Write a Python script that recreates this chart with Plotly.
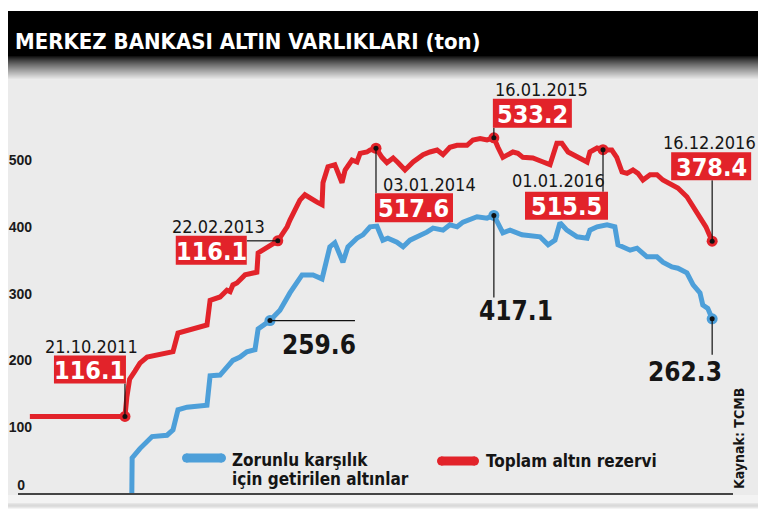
import plotly.graph_objects as go
import pandas as pd

# ---------------- data ----------------
red_dates = [
    "2010-12-20", "2011-10-21", "2011-10-27", "2011-11-05", "2011-11-22", "2011-12-08",
    "2011-12-31", "2012-02-10", "2012-03-23", "2012-04-08", "2012-06-08", "2012-07-10",
    "2012-07-20", "2012-08-21", "2012-09-12", "2012-09-22", "2012-10-01", "2012-10-14",
    "2012-11-09", "2012-12-17", "2012-12-21", "2013-01-18", "2013-02-22", "2013-03-24",
    "2013-04-02", "2013-05-04", "2013-05-20", "2013-06-28", "2013-07-14", "2013-07-17",
    "2013-08-02", "2013-08-24", "2013-08-31", "2013-09-16", "2013-09-26", "2013-10-18",
    "2013-11-03", "2013-11-13", "2013-12-05", "2013-12-15", "2014-01-03", "2014-01-22",
    "2014-02-07", "2014-02-27", "2014-03-15", "2014-04-06", "2014-05-02", "2014-06-03",
    "2014-06-25", "2014-07-18", "2014-08-06", "2014-08-28", "2014-09-20", "2014-10-22",
    "2014-11-10", "2014-12-03", "2014-12-25", "2015-01-16", "2015-01-29", "2015-02-14",
    "2015-03-18", "2015-04-03", "2015-04-19", "2015-05-21", "2015-06-23", "2015-07-15",
    "2015-08-06", "2015-08-22", "2015-09-11", "2015-10-10", "2015-11-11", "2015-11-20",
    "2015-12-13", "2016-01-01", "2016-01-29", "2016-02-14", "2016-03-02", "2016-03-18",
    "2016-04-06", "2016-04-22", "2016-05-08", "2016-05-31", "2016-06-22", "2016-07-11",
    "2016-08-09", "2016-08-28", "2016-09-26", "2016-10-16", "2016-11-07", "2016-11-26",
    "2016-12-16",
]
red_values = [
    116.1, 116.1, 145, 172, 184, 196,
    205, 209, 213, 241, 250, 253,
    290, 295, 305, 303, 313, 316,
    328, 332, 361, 370, 379, 400,
    410, 440, 448, 437, 433, 466,
    490, 493, 485, 466, 485, 500,
    497, 510, 512, 515, 517.6, 504,
    496, 503, 496, 485, 497, 508,
    512, 515, 508, 519, 522, 522,
    530, 532, 530, 533.2, 519, 504,
    512, 510, 504, 503, 497, 493,
    525, 525, 512, 504, 497, 512,
    518, 515.5, 515, 504, 482, 480,
    485, 480, 470, 478, 478, 470,
    463, 458, 445, 430, 415, 400,
    378.4,
]

blue_dates = [
    "2011-11-12", "2011-11-13", "2011-12-08", "2012-01-16", "2012-03-04", "2012-03-23",
    "2012-04-08", "2012-05-07", "2012-07-10", "2012-07-20", "2012-08-21", "2012-09-12",
    "2012-10-01", "2012-10-24", "2012-11-15", "2012-12-11", "2012-12-21", "2013-01-28",
    "2013-03-01", "2013-04-02", "2013-05-11", "2013-06-15", "2013-07-14", "2013-08-08",
    "2013-08-24", "2013-09-19", "2013-10-05", "2013-11-03", "2013-11-22", "2013-12-15",
    "2014-01-06", "2014-01-25", "2014-02-10", "2014-03-11", "2014-03-31", "2014-04-22",
    "2014-05-18", "2014-06-15", "2014-07-05", "2014-08-06", "2014-08-28", "2014-09-20",
    "2014-10-09", "2014-10-31", "2014-11-23", "2014-12-25", "2015-01-16", "2015-02-14",
    "2015-03-09", "2015-04-16", "2015-06-13", "2015-07-09", "2015-07-31", "2015-08-16",
    "2015-09-07", "2015-10-10", "2015-11-11", "2015-11-20", "2015-12-13", "2016-01-14",
    "2016-02-08", "2016-02-18", "2016-03-05", "2016-03-28", "2016-04-19", "2016-05-21",
    "2016-06-22", "2016-07-11", "2016-08-09", "2016-08-28", "2016-09-26", "2016-10-16",
    "2016-11-07", "2016-11-16", "2016-12-02", "2016-12-16",
]
blue_values = [
    0, 54, 68, 86, 88, 96,
    126, 130, 133, 177, 178, 189,
    200, 205, 213, 216, 247, 259.6,
    275, 301, 328, 328, 322, 370,
    376, 347, 370, 383, 388, 400,
    401, 380, 383, 377, 370, 380,
    385, 392, 398, 395, 403, 400,
    407, 410, 415, 413, 417.1, 391,
    395, 388, 385, 373, 380, 406,
    395, 385, 383, 395, 400, 403,
    400, 373, 370, 365, 368, 355,
    355, 347, 340, 338, 331, 313,
    301, 283, 278, 262.3,
]

y_tick_values = [0, 100, 200, 300, 400, 500]

red_callout_dates = ["2011-10-21", "2013-02-22", "2014-01-03", "2015-01-16", "2016-01-01", "2016-12-16"]
red_callout_labels = ["116.1", "116.1", "517.6", "533.2", "515.5", "378.4"]
blue_callout_dates = ["2013-01-28", "2015-01-16", "2016-12-16"]
blue_callout_labels = ["259.6", "417.1", "262.3"]

title_text = "MERKEZ BANKASI ALTIN VARLIKLARI (ton)"
legend_blue_lines = ["Zorunlu karşılık", "için getirilen altınlar"]
legend_red_text = "Toplam altın rezervi"
source_text = "Kaynak: TCMB"

# ---------------- styles / layout ----------------
RED = "#e2232a"
BLUE = "#4d9fd9"
PANEL = "#ebebeb"
NARROW = "Liberation Sans Narrow, DejaVu Sans Condensed, Arial Narrow, sans-serif"
PAGE_OFF = 8                     # default page margin of the browser
W, H = 770 - PAGE_OFF, 515 - PAGE_OFF
# plot area in page pixels
PL, PR, PT, PB = 18, 758, 80, 494
BASE_RIGHT = 733
Y_RANGE = [0, 619.76]


def fx(px):
    return (px - PL) / (PR - PL)


def fy(py):
    return (PB - py) / (PB - PT)


red_lookup = dict(zip(red_dates, red_values))
blue_lookup = dict(zip(blue_dates, blue_values))
red_cy = [red_lookup[d] for d in red_callout_dates]
blue_cy = [blue_lookup[d] for d in blue_callout_dates]

# pixel offsets of callout pieces relative to their point (x right, y up)
red_box = [(-71, 1, 33, 61), (-102, -31, -24, 5), (-1, 77, -74, -45),
           (-1, 78, 10, 39), (-78, 5, -70, -42), (-41, 39, 61, 89)]
red_leader = [(0, 33), (-31, 0), (0, -45), (0, 10), (0, -42), (0, 61)]
red_date_off = [(-33, 70), (-59, 14), (54, -36), (48, 48), (-45, -31), (-3, 99)]
blue_leader = [(85, 0), (0, -82), (0, -36)]
blue_label_off = [(49, -24), (22, -96), (-27, -53)]

fig = go.Figure()

fig.add_trace(go.Scatter(x=blue_dates, y=blue_values, mode="lines",
                         line=dict(color=BLUE, width=5), hoverinfo="skip", showlegend=False))
fig.add_trace(go.Scatter(x=red_dates, y=red_values, mode="lines",
                         line=dict(color=RED, width=5), hoverinfo="skip", showlegend=False))

shapes = []
annotations = []

# background panel and title bar
shapes.append(dict(type="rect", xref="paper", yref="paper", x0=fx(5), x1=fx(758),
                   y0=fy(508), y1=fy(11), fillcolor=PANEL, line=dict(width=0), layer="below"))
shapes.append(dict(type="rect", xref="paper", yref="paper", x0=fx(5), x1=fx(758),
                   y0=fy(56), y1=fy(11), fillcolor="#000000", line=dict(width=0), layer="below"))
n = 24
for i in range(n):
    t = ((i + 1) / n) ** 0.8
    c = int(235 * t)
    shapes.append(dict(type="rect", xref="paper", yref="paper", x0=fx(5), x1=fx(758),
                       y0=fy(56 + i + 1), y1=fy(56 + i), fillcolor=f"rgb({c},{c},{c})",
                       line=dict(width=0), layer="below"))
# bottom light strip & shadow
shapes.append(dict(type="rect", xref="paper", yref="paper", x0=fx(5), x1=fx(758),
                   y0=fy(503), y1=fy(495), fillcolor="#f3f3f3", line=dict(width=0), layer="below"))
for i, c in enumerate([230, 222, 218, 222, 232, 244]):
    shapes.append(dict(type="rect", xref="paper", yref="paper", x0=fx(5), x1=fx(758),
                       y0=fy(503 + i + 1), y1=fy(503 + i), fillcolor=f"rgb({c},{c},{c})",
                       line=dict(width=0), layer="below"))
# baseline
shapes.append(dict(type="line", xref="paper", yref="paper", x0=fx(PL), x1=fx(BASE_RIGHT),
                   y0=0, y1=0, line=dict(color="#454545", width=2)))

# callouts (red)
for i, (d, v) in enumerate(zip(red_callout_dates, red_cy)):
    lx, ly = red_leader[i]
    shapes.append(dict(type="line", xref="x", yref="y", xsizemode="pixel", ysizemode="pixel",
                       xanchor=d, yanchor=v, x0=0, y0=0, x1=lx, y1=ly,
                       line=dict(color="#111111", width=1.2)))
    bx0, bx1, by0, by1 = red_box[i]
    shapes.append(dict(type="rect", xref="x", yref="y", xsizemode="pixel", ysizemode="pixel",
                       xanchor=d, yanchor=v, x0=bx0, x1=bx1, y0=by0, y1=by1,
                       fillcolor=RED, line=dict(width=0)))
    annotations.append(dict(x=d, y=v, xref="x", yref="y", text=red_callout_labels[i],
                            showarrow=False, xanchor="center", yanchor="middle",
                            xshift=(bx0 + bx1) / 2, yshift=(by0 + by1) / 2 - 1,
                            font=dict(family=NARROW, size=25, color="white", weight="bold")))
    dx, dy = red_date_off[i]
    annotations.append(dict(x=d, y=v, xref="x", yref="y",
                            text=pd.Timestamp(d).strftime("%d.%m.%Y"),
                            showarrow=False, xanchor="center", yanchor="middle",
                            xshift=dx, yshift=dy,
                            font=dict(family=NARROW, size=18, color="#151515")))

# callouts (blue)
for i, (d, v) in enumerate(zip(blue_callout_dates, blue_cy)):
    lx, ly = blue_leader[i]
    shapes.append(dict(type="line", xref="x", yref="y", xsizemode="pixel", ysizemode="pixel",
                       xanchor=d, yanchor=v, x0=0, y0=0, x1=lx, y1=ly,
                       line=dict(color="#111111", width=1.2)))
    dx, dy = blue_label_off[i]
    annotations.append(dict(x=d, y=v, xref="x", yref="y", text=blue_callout_labels[i],
                            showarrow=False, xanchor="center", yanchor="middle",
                            xshift=dx, yshift=dy,
                            font=dict(family=NARROW, size=26, color="#151515", weight="bold")))

# markers at callout points
fig.add_trace(go.Scatter(x=red_callout_dates, y=red_cy, mode="markers",
                         marker=dict(color=RED, size=11), hoverinfo="skip", showlegend=False))
fig.add_trace(go.Scatter(x=blue_callout_dates, y=blue_cy, mode="markers",
                         marker=dict(color=BLUE, size=11), hoverinfo="skip", showlegend=False))
# black centres drawn on an overlaying axis with the same range (that axis carries the "0" label)
fig.add_trace(go.Scatter(x=red_callout_dates + blue_callout_dates, y=red_cy + blue_cy,
                         mode="markers", marker=dict(color="#111111", size=5), yaxis="y2",
                         hoverinfo="skip", showlegend=False))

# title
annotations.append(dict(x=fx(13), y=fy(41), xref="paper", yref="paper", text=title_text,
                        showarrow=False, xanchor="left", yanchor="middle",
                        font=dict(family=NARROW, size=22, color="white", weight="bold")))

# legend (drawn)
shapes.append(dict(type="line", xref="paper", yref="paper", x0=fx(186), x1=fx(222),
                   y0=fy(458), y1=fy(458), line=dict(color=BLUE, width=9)))
shapes.append(dict(type="circle", xref="paper", yref="paper", x0=fx(182), x1=fx(191),
                   y0=fy(462.5), y1=fy(453.5), fillcolor=BLUE, line=dict(width=0)))
shapes.append(dict(type="circle", xref="paper", yref="paper", x0=fx(217), x1=fx(226),
                   y0=fy(462.5), y1=fy(453.5), fillcolor=BLUE, line=dict(width=0)))
shapes.append(dict(type="line", xref="paper", yref="paper", x0=fx(441), x1=fx(475),
                   y0=fy(461), y1=fy(461), line=dict(color=RED, width=9)))
shapes.append(dict(type="circle", xref="paper", yref="paper", x0=fx(437), x1=fx(446),
                   y0=fy(465.5), y1=fy(456.5), fillcolor=RED, line=dict(width=0)))
shapes.append(dict(type="circle", xref="paper", yref="paper", x0=fx(470), x1=fx(479),
                   y0=fy(465.5), y1=fy(456.5), fillcolor=RED, line=dict(width=0)))
for txt, ypx in zip(legend_blue_lines, [460, 479]):
    annotations.append(dict(x=fx(230), y=fy(ypx), xref="paper", yref="paper", text=txt,
                            showarrow=False, xanchor="left", yanchor="middle",
                            font=dict(family=NARROW, size=17, color="#151515", weight="bold")))
annotations.append(dict(x=fx(484), y=fy(461), xref="paper", yref="paper", text=legend_red_text,
                        showarrow=False, xanchor="left", yanchor="middle",
                        font=dict(family=NARROW, size=17, color="#151515", weight="bold")))

# source
annotations.append(dict(x=fx(739), y=fy(439), xref="paper", yref="paper", text=source_text,
                        showarrow=False, xanchor="center", yanchor="middle", textangle=-90,
                        font=dict(family=NARROW, size=14, color="#151515", weight="bold")))

tick_font = dict(family="Liberation Sans, Arial, sans-serif", size=14,
                 color="#1a1a1a", weight="bold")

fig.update_layout(
    width=W, height=H,
    margin=dict(l=PL - PAGE_OFF, r=W - (PR - PAGE_OFF), t=PT - PAGE_OFF,
                b=H - (PB - PAGE_OFF), pad=0, autoexpand=False),
    paper_bgcolor="white", plot_bgcolor="rgba(0,0,0,0)",
    shapes=shapes, annotations=annotations, showlegend=False,
    xaxis=dict(type="date", range=["2010-11-12", "2017-05-12"], showgrid=False,
               zeroline=False, showticklabels=False, ticks="", showline=False,
               automargin=False, fixedrange=True),
    yaxis=dict(range=Y_RANGE, tickvals=y_tick_values[1:], showgrid=False, zeroline=False,
               showline=False, ticks="", ticklabelposition="outside", ticklabelstandoff=-15,
               automargin=False, tickfont=tick_font, fixedrange=True),
    yaxis2=dict(range=Y_RANGE, overlaying="y", side="left", anchor="x",
                tickvals=y_tick_values[:1], showgrid=False, zeroline=False, showline=False,
                ticks="", ticklabelposition="outside", ticklabelstandoff=-8,
                ticklabelshift=-9, automargin=False, tickfont=tick_font, fixedrange=True),
)

fig.write_html("out.html")
